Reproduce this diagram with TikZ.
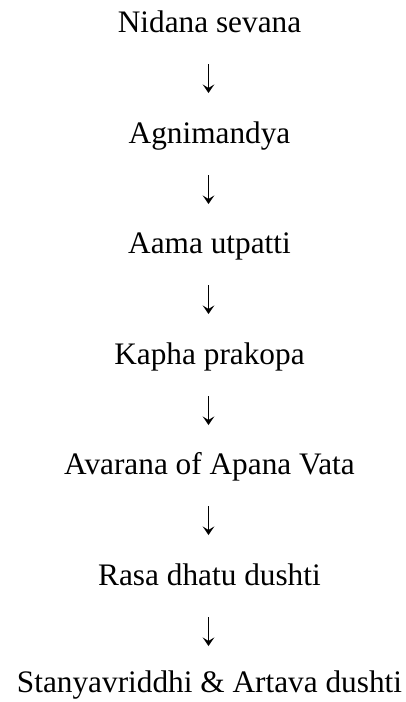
\documentclass[tikz,border=0pt]{standalone}
\usepackage{fontspec}
\setmainfont{Liberation Serif}
\usetikzlibrary{arrows.meta}
\begin{document}
\begin{tikzpicture}[x=1pt,y=1pt,
  lbl/.style={inner sep=0pt, anchor=base, font=\fontsize{31.3}{36}\selectfont},
  flow/.style={line width=1.4pt, -{Stealth[length=8.5pt,width=11.5pt,inset=3.5pt]}}]
\useasboundingbox (0,0) rectangle (406,-702);
\node[lbl] (n1) at (209.5,-32) {Nidana sevana};
\node[lbl] (n2) at (209.5,-143) {Agnimandya};
\node[lbl] (n3) at (209.5,-253) {Aama utpatti};
\node[lbl] (n4) at (209.5,-364) {Kapha prakopa};
\node[lbl] (n5) at (209.5,-474) {Avarana of Apana Vata};
\node[lbl] (n6) at (209.5,-585) {Rasa dhatu dushti};
\node[lbl] (n7) at (209.5,-692) {Stanyavriddhi \& Artava dushti};
\foreach \a/\b in {n1/n2,n2/n3,n3/n4,n4/n5,n5/n6,n6/n7}{
  \draw[flow] ([xshift=-1pt,yshift=-32pt]\a.base) -- ([xshift=-1pt,yshift=-61pt]\a.base);
}
\end{tikzpicture}
\end{document}
